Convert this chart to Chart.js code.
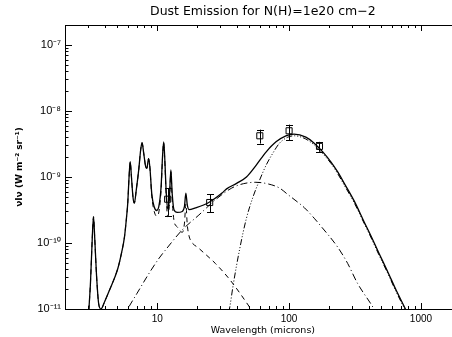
<!DOCTYPE html>
<html>
<head>
<meta charset="utf-8">
<title>Dust Emission for N(H)=1e20 cm-2</title>
<script src="https://cdn.jsdelivr.net/npm/chart.js@4.4.1/dist/chart.umd.min.js"></script>
<style>
  html, body { margin: 0; padding: 0; background: #fff; overflow: hidden; }
  #wrap { width: 452px; height: 337px; overflow: hidden; }
</style>
</head>
<body>
<div id="wrap"><canvas id="sed" width="466" height="337"></canvas></div>
<script>
// total model (solid)
const totalLam = [3.0, 3.12, 3.22, 3.29, 3.36, 3.46, 3.6, 3.75, 4.0, 4.36,
  5.03, 5.4, 5.65, 5.85, 5.98, 6.12, 6.24, 6.38, 6.55, 6.71,
  6.95, 7.25, 7.5, 7.68, 7.9, 8.2, 8.35, 8.6, 8.8, 9.1,
  9.5, 9.9, 10.3, 10.7, 11.0, 11.2, 11.4, 11.7, 12.0, 12.35,
  12.7, 13.0, 13.4, 14.2, 15.5, 16.1, 16.5, 16.9, 17.4, 19.5,
  24.6, 31, 33.6, 40, 47.5, 56.2, 67.1, 79.6, 94.5, 109,
  134, 155, 180, 208, 233, 262, 312, 370, 416, 480,
  555, 650, 762, 900];
const totalVal = [7e-12, 2.5e-11, 1.2e-10, 2.5e-10, 1.2e-10, 3.5e-11, 1.2e-11, 1.0e-11, 1.3e-11, 1.95e-11,
  4.1e-11, 7.5e-11, 1.24e-10, 2.4e-10, 4.0e-10, 1.0e-9, 1.7e-9, 1.0e-9, 5.0e-10, 4.0e-10,
  6.5e-10, 1.3e-9, 2.6e-9, 3.3e-9, 2.3e-9, 1.4e-9, 1.35e-9, 1.9e-9, 1.4e-9, 5.5e-10,
  3.5e-10, 3.1e-10, 3.6e-10, 7.0e-10, 2.2e-9, 3.4e-9, 2.0e-9, 6.0e-10, 3.3e-10, 4.5e-10,
  1.28e-9, 5.5e-10, 3.2e-10, 2.9e-10, 3.0e-10, 3.6e-10, 5.7e-10, 3.8e-10, 3.2e-10, 3.4e-10,
  4.1e-10, 5.7e-10, 6.6e-10, 8.0e-10, 1.0e-9, 1.5e-9, 2.4e-9, 3.4e-9, 4.2e-9, 4.45e-9,
  4.0e-9, 3.25e-9, 2.4e-9, 1.68e-9, 1.2e-9, 8.0e-10, 4.3e-10, 2.1e-10, 1.3e-10, 7.0e-11,
  3.8e-11, 1.9e-11, 1.0e-11, 5e-12];

// PAH component (dashed)
const pahLam = [3.0, 3.12, 3.22, 3.29, 3.36, 3.46, 3.6, 3.75, 4.0, 4.36,
  5.03, 5.4, 5.65, 5.85, 5.98, 6.12, 6.24, 6.38, 6.55, 6.71,
  6.95, 7.25, 7.5, 7.68, 7.9, 8.2, 8.35, 8.6, 8.8, 9.1,
  9.5, 9.9, 10.3, 10.7, 11.0, 11.2, 11.4, 11.7, 12.0, 12.35,
  12.7, 13.0, 13.4, 14.2, 15.5, 16.1, 16.5, 16.9, 17.4, 17.9,
  20.7, 27.6, 35.7, 48.9, 53];
const pahVal = [7e-12, 2.5e-11, 1.2e-10, 2.5e-10, 1.2e-10, 3.5e-11, 1.2e-11, 1.0e-11, 1.3e-11, 1.95e-11,
  4.1e-11, 7.5e-11, 1.24e-10, 2.4e-10, 4.0e-10, 1.0e-9, 1.7e-9, 1.0e-9, 5.0e-10, 4.0e-10,
  6.5e-10, 1.3e-9, 2.6e-9, 3.3e-9, 2.3e-9, 1.4e-9, 1.35e-9, 1.9e-9, 1.4e-9, 5.1e-10,
  3.0e-10, 2.55e-10, 2.95e-10, 6.3e-10, 2.1e-9, 3.3e-9, 1.9e-9, 5.2e-10, 2.5e-10, 3.6e-10,
  1.2e-9, 4.4e-10, 2.2e-10, 1.75e-10, 1.45e-10, 2.0e-10, 3.9e-10, 1.9e-10, 1.3e-10, 1.1e-10,
  8.3e-11, 4.9e-11, 2.75e-11, 1.15e-11, 9e-12];

// very small grains (dash-dot)
const vsgLam = [5.5, 5.98, 7.0, 8.7, 10.35, 11.6, 15.5, 20.7, 27.6, 36.8, 45, 56, 70, 84.5,
  98, 119, 131, 155, 175, 233, 278, 330, 440, 500];
const vsgVal = [7e-12, 1.0e-11, 1.7e-11, 3.5e-11, 5.9e-11, 7.9e-11, 1.58e-10, 2.65e-10, 4.5e-10, 6.8e-10, 7.9e-10, 8.3e-10, 7.8e-10, 6.8e-10,
  5.4e-10, 4.0e-10, 3.4e-10, 2.37e-10, 1.78e-10, 8.7e-11, 4.9e-11, 2.45e-11, 1.0e-11, 6e-12];

// big grains (dash-dot-dot-dot)
const bgLam = [33, 35.6, 37.8, 42.3, 47.5, 53.3, 59.8, 67.1, 75.3, 84.5, 97.7, 110,
  119, 134, 155, 180, 208, 233, 262, 312, 370, 416, 480, 555, 650, 762, 900];
const bgVal = [5e-12, 1.1e-11, 2.4e-11, 8.3e-11, 2.37e-10, 5.0e-10, 9.0e-10, 1.52e-9, 2.29e-9, 3.24e-9, 4.0e-9, 4.2e-9,
  4.1e-9, 3.75e-9, 3.05e-9, 2.25e-9, 1.6e-9, 1.13e-9, 7.5e-10, 4.05e-10, 2.0e-10, 1.23e-10, 6.6e-11, 3.6e-11, 1.8e-11, 9.5e-12, 4.8e-12];

// observed points with error bars
const obsLam = [12, 25, 60, 100, 170];
const obsVal = [4.6e-10, 4.1e-10, 4.2e-9, 5.0e-9, 2.9e-9];
const obsLo = [2.6e-10, 2.9e-10, 3.2e-9, 3.6e-9, 2.4e-9];
const obsHi = [6.8e-10, 5.5e-10, 5.2e-9, 6.2e-9, 3.4e-9];

// tick labels
const xDecades = [10, 100, 1000];
const xLabels = ['10', '100', '1000'];
const yDecades = [1e-11, 1e-10, 1e-9, 1e-8, 1e-7];
const yLabels = ['10⁻¹¹', '10⁻¹⁰', '10⁻⁹', '10⁻⁸', '10⁻⁷'];

const pts = (lam, val) => lam.map((l, i) => ({x: l, y: val[i]}));

const decadeLabel = (v, decades, labels) => {
  const i = decades.findIndex(d => Math.abs(Math.log10(v) - Math.log10(d)) < 1e-6);
  return i < 0 ? '' : labels[i];
};

// IDL-like inward ticks, top axis and error bars
const idlAxes = {
  id: 'idlAxes',
  afterDatasetsDraw(chart) {
    const {ctx, chartArea: a, scales: {x, y}} = chart;
    ctx.save();
    ctx.strokeStyle = '#000';
    ctx.lineWidth = 1;
    ctx.beginPath();
    ctx.moveTo(a.left, a.top + 0.5);
    ctx.lineTo(a.right, a.top + 0.5);
    ctx.moveTo(a.right - 0.5, a.top);
    ctx.lineTo(a.right - 0.5, a.bottom);

    for (let e = 0; e <= 3; e++) {
      for (let m = 1; m <= 9; m++) {
        const v = m * Math.pow(10, e);
        if (v < x.min || v > x.max) continue;
        const px = Math.round(x.getPixelForValue(v)) + 0.5;
        const len = m === 1 ? 6 : 3;
        ctx.moveTo(px, a.bottom);
        ctx.lineTo(px, a.bottom - len);
        ctx.moveTo(px, a.top);
        ctx.lineTo(px, a.top + len);
      }
    }
    for (let e = -11; e <= -7; e++) {
      for (let m = 1; m <= 9; m++) {
        const v = m * Math.pow(10, e);
        if (v < y.min || v > y.max) continue;
        const py = Math.round(y.getPixelForValue(v)) + 0.5;
        const len = m === 1 ? 7 : 3.5;
        ctx.moveTo(a.left, py);
        ctx.lineTo(a.left + len, py);
        ctx.moveTo(a.right, py);
        ctx.lineTo(a.right - len, py);
      }
    }

    obsLam.forEach((l, i) => {
      const px = Math.round(x.getPixelForValue(l)) + 0.5;
      const top = y.getPixelForValue(obsHi[i]);
      const bot = y.getPixelForValue(obsLo[i]);
      ctx.moveTo(px, top);
      ctx.lineTo(px, bot);
      ctx.moveTo(px - 3.5, Math.round(top) + 0.5);
      ctx.lineTo(px + 3.5, Math.round(top) + 0.5);
      ctx.moveTo(px - 3.5, Math.round(bot) + 0.5);
      ctx.lineTo(px + 3.5, Math.round(bot) + 0.5);
    });
    ctx.stroke();
    ctx.restore();
  }
};

const lineSet = (data, dash, width) => ({
  data: data,
  showLine: true,
  borderColor: '#000',
  borderWidth: width,
  borderDash: dash,
  pointRadius: 0,
  fill: false,
  cubicInterpolationMode: 'monotone'
});

new Chart(document.getElementById('sed'), {
  type: 'scatter',
  data: {
    datasets: [
      lineSet(pts(totalLam, totalVal), [], 1.3),
      lineSet(pts(pahLam, pahVal), [5, 4], 1),
      lineSet(pts(vsgLam, vsgVal), [7, 3, 1, 3], 1),
      lineSet(pts(bgLam, bgVal), [6, 2, 1, 2, 1, 2, 1, 2], 1),
      {
        data: pts(obsLam, obsVal),
        showLine: false,
        pointStyle: 'rect',
        pointRadius: 4.3,
        borderColor: '#000',
        borderWidth: 1,
        backgroundColor: 'rgba(0,0,0,0)'
      }
    ]
  },
  options: {
    responsive: false,
    devicePixelRatio: 1,
    animation: false,
    events: [],
    layout: {padding: {left: 0, right: 2, top: 0, bottom: 0}},
    plugins: {
      legend: {display: false},
      tooltip: {enabled: false},
      title: {
        display: true,
        fullSize: false,
        text: 'Dust Emission for N(H)=1e20 cm−2',
        color: '#000',
        font: {family: 'DejaVu Sans', size: 12.5, weight: 'normal', lineHeight: 1.2},
        padding: {top: 4, bottom: 6}
      }
    },
    scales: {
      x: {
        type: 'logarithmic',
        min: 2,
        max: 2000,
        border: {display: true, color: '#000', width: 1},
        grid: {display: false, drawTicks: false},
        ticks: {
          autoSkip: false,
          maxRotation: 0,
          color: '#000',
          padding: 4,
          font: {family: 'Liberation Sans', size: 10},
          callback: v => decadeLabel(v, xDecades, xLabels)
        },
        title: {
          display: true,
          text: 'Wavelength (microns)',
          color: '#000',
          font: {family: 'DejaVu Sans', size: 9.5, lineHeight: 1.2},
          padding: {top: 0, bottom: 1}
        },
        afterFit: s => { s.height = 28; }
      },
      y: {
        type: 'logarithmic',
        min: 1e-11,
        max: 2e-7,
        border: {display: true, color: '#000', width: 1},
        grid: {display: false, drawTicks: false},
        ticks: {
          autoSkip: false,
          color: '#000',
          padding: 4,
          font: {family: 'Liberation Sans', size: 11},
          callback: v => decadeLabel(v, yDecades, yLabels)
        },
        title: {
          display: true,
          text: 'νIν (W m⁻² sr⁻¹)',
          color: '#000',
          font: {family: 'DejaVu Sans', size: 9, weight: 'bold', lineHeight: 1.2},
          padding: {top: 14.6, bottom: 0}
        },
        afterFit: s => { s.width = 65; }
      }
    }
  },
  plugins: [idlAxes]
});
</script>
</body>
</html>
